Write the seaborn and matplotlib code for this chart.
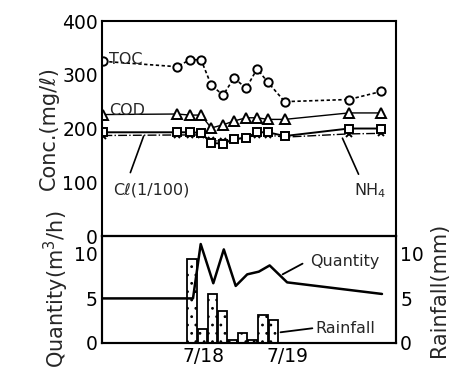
import matplotlib
matplotlib.use("Agg")
import matplotlib.pyplot as plt
import seaborn as sns
import numpy as np

# hours from 7/18 0:00
sample_hours = [-28.6, -7.5, -3.9, -0.7, 2.2, 5.6, 8.7, 12.2, 15.3, 18.4, 23.2, 41.5, 50.8]
toc = [325, 315, 328, 328, 281, 262, 294, 275, 311, 286, 250, 254, 269]
cod = [226, 227, 225, 225, 201, 207, 214, 220, 220, 217, 217, 229, 229]
nh4 = [193, 193, 193, 192, 173, 172, 180, 183, 193, 193, 186, 200, 200]
cl_100 = [187, 188, 188, 188, 178, 176, 180, 183, 188, 188, 184, 190, 191]

quantity_hours = [-28.9, -4.7, -3.0, -0.8, 2.8, 5.8, 9.2, 12.5, 15.8, 18.9, 23.9, 51.0]
quantity = [5.0, 5.0, 5.0, 11.1, 6.7, 10.5, 6.4, 7.7, 8.0, 8.7, 6.8, 5.5]

rain_hours = [-3.3, -0.4, 2.5, 5.4, 8.3, 11.2, 14.1, 17.0, 19.9]
rainfall = [9.4, 1.6, 5.5, 3.6, 0.3, 1.1, 0.3, 3.1, 2.6]

day_ticks = [0, 24]
day_labels = ["7/18", "7/19"]

sns.set_style("white")
plt.rcParams['font.family'] = ['DejaVu Sans']
plt.rcParams['hatch.linewidth'] = 0.8

fig = plt.figure(figsize=(4.56, 3.69), dpi=100)
ax1 = fig.add_axes([0.2237, 0.3604, 0.6447, 0.5826])
ax2 = fig.add_axes([0.2237, 0.0705, 0.6447, 0.2899])
ax3 = ax2.twinx()

mk = dict(markerfacecolor='white', markeredgecolor='black', markeredgewidth=1.4, color='black')
sns.lineplot(x=sample_hours, y=toc, ax=ax1, marker='o', markersize=6, linestyle=(0, (2, 1.5)), linewidth=1.2, **mk)
sns.lineplot(x=sample_hours, y=cod, ax=ax1, marker='^', markersize=7, linestyle='-', linewidth=1.0, **mk)
sns.lineplot(x=sample_hours, y=cl_100, ax=ax1, marker='x', markersize=5, linestyle='-.', linewidth=1.0, **mk)
sns.lineplot(x=sample_hours, y=nh4, ax=ax1, marker='s', markersize=6, linestyle='-', linewidth=1.4, **mk)

ax1.set_xlim(-29, 55)
ax1.set_ylim(0, 400)
ax1.set_yticks([0, 100, 200, 300, 400])
ax1.set_xticks([])
ax1.set_ylabel("Conc.(mg/ℓ)", fontsize=15, labelpad=2)

ax1.text(-27.0, 328, "TOC", fontsize=11.5, ha='left', va='center')
ax1.text(-27.0, 233, "COD", fontsize=11.5, ha='left', va='center')
ax1.text(-25.7, 85, "Cℓ(1/100)", fontsize=11.5, ha='left', va='center')
ax1.plot([-20.9, -17.1], [118, 186], color='black', lw=1.2)
ax1.text(42.9, 85, "NH$_4$", fontsize=11.5, ha='left', va='center')
ax1.plot([44.3, 39.7], [115, 182], color='black', lw=1.2)

# bottom panel
sns.lineplot(x=quantity_hours, y=quantity, ax=ax2, color='black', linewidth=1.8)
ax2.set_xlim(-29, 55)
ax2.set_ylim(0, 12)
ax2.set_yticks([0, 5, 10])
ax2.set_xticks(day_ticks)
ax2.set_xticklabels(day_labels)
ax2.set_ylabel("Quantity(m$^3$/h)", fontsize=15, labelpad=2)

ax3.bar(rain_hours, rainfall, width=2.6, facecolor='white', edgecolor='black', linewidth=1.3, hatch='..')
ax3.set_ylim(0, 12)
ax3.set_yticks([0, 5, 10])
ax3.set_ylabel("Rainfall(mm)", fontsize=15, labelpad=4)
ax2.set_zorder(ax3.get_zorder() + 1)
ax2.patch.set_visible(False)

ax2.text(30.6, 9.1, "Quantity", fontsize=11.5, ha='left', va='center')
ax2.plot([28.3, 22.6], [8.9, 7.7], color='black', lw=1.3)
ax2.text(32.0, 1.65, "Rainfall", fontsize=11.5, ha='left', va='center')
ax2.plot([31.1, 22.0], [1.65, 1.2], color='black', lw=1.3)

for ax in (ax1, ax2, ax3):
    for s in ax.spines.values():
        s.set_visible(True)
        s.set_color('black')
        s.set_linewidth(1.5)
    ax.tick_params(labelsize=13.5, length=0, pad=3, colors='black')

fig.savefig("out.png", dpi=100)
